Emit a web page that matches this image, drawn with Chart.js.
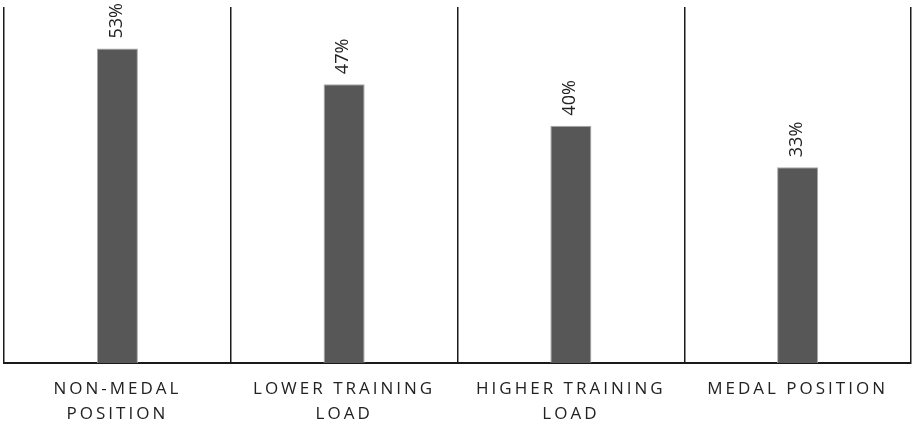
<!DOCTYPE html>
<html>
<head>
<meta charset="utf-8">
<script src="https://cdn.jsdelivr.net/npm/chart.js@4/dist/chart.umd.min.js"></script>
<style>
  html, body { margin: 0; padding: 0; background: #ffffff; }
  #wrap { width: 912px; height: 428px; position: relative; }
</style>
</head>
<body>
<div id="wrap"><canvas id="chart"></canvas></div>
<script>
// Share of athletes per group (percent)
const categories = [
  ['NON-MEDAL', 'POSITION'],
  ['LOWER TRAINING', 'LOAD'],
  ['HIGHER TRAINING', 'LOAD'],
  ['MEDAL POSITION']
];
const shares = [53, 47, 40, 33];
const valueSuffix = '%';

const FONT = '"Open Sans", "Noto Sans", sans-serif';
const INK = '#222222';

// Spaced-out capitals for the category labels
const letterSpacingPlugin = {
  id: 'letterSpacing',
  beforeDraw(chart) { chart.ctx.letterSpacing = '3px'; },
  afterDraw(chart) { chart.ctx.letterSpacing = '0px'; }
};

// Rotated value labels above each bar
const valueLabels = {
  id: 'valueLabels',
  afterDatasetsDraw(chart) {
    const ctx = chart.ctx;
    const meta = chart.getDatasetMeta(0);
    ctx.save();
    ctx.letterSpacing = '0px';
    ctx.font = '18px ' + FONT;
    ctx.fillStyle = INK;
    ctx.textAlign = 'left';
    ctx.textBaseline = 'middle';
    meta.data.forEach((bar, i) => {
      ctx.save();
      ctx.translate(bar.x - 1, bar.y - 10);
      ctx.rotate(-Math.PI / 2);
      ctx.fillText(shares[i] + valueSuffix, 0, 0);
      ctx.restore();
    });
    ctx.restore();
  }
};

new Chart(document.getElementById('chart'), {
  type: 'bar',
  data: {
    labels: categories,
    datasets: [{
      data: shares,
      backgroundColor: '#575757',
      borderColor: '#a8a8a8',
      borderWidth: 1,
      barPercentage: 0.181,
      categoryPercentage: 1
    }]
  },
  options: {
    responsive: true,
    maintainAspectRatio: false,
    animation: false,
    layout: { padding: { left: 4, right: 1, top: 7, bottom: -12 } },
    plugins: { legend: { display: false }, tooltip: { enabled: false } },
    scales: {
      x: {
        grid: {
          offset: true,
          drawTicks: false,
          color: '#1a1a1a',
          lineWidth: 1.5
        },
        border: { display: true, color: '#1a1a1a', width: 2 },
        ticks: {
          padding: 13,
          autoSkip: false,
          maxRotation: 0,
          color: INK,
          font: { family: FONT, size: 17, lineHeight: 1.5 }
        }
      },
      y: {
        display: false,
        min: 0,
        max: 60
      }
    }
  },
  plugins: [letterSpacingPlugin, valueLabels]
});
</script>
</body>
</html>
